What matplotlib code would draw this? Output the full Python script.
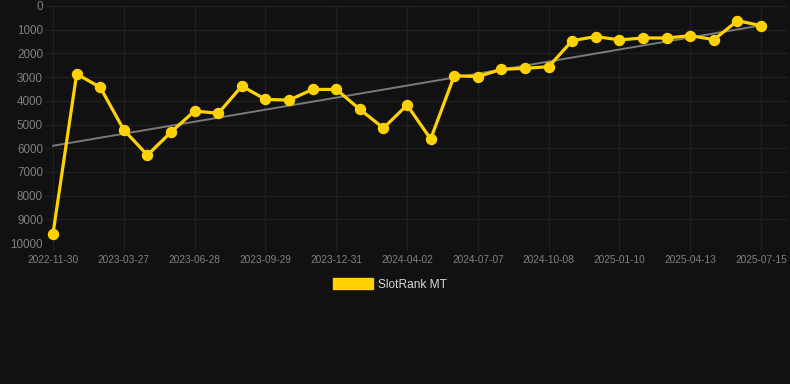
import numpy as np
import matplotlib
matplotlib.use("Agg")
import matplotlib.pyplot as plt
from matplotlib.patches import Patch

dates = ["2022-11-30", "2023-01-08", "2023-02-16", "2023-03-27", "2023-04-27",
         "2023-05-28", "2023-06-28", "2023-07-29", "2023-08-29", "2023-09-29",
         "2023-10-30", "2023-11-30", "2023-12-31", "2024-02-01", "2024-03-02",
         "2024-04-02", "2024-05-05", "2024-06-05", "2024-07-07", "2024-08-07",
         "2024-09-07", "2024-10-08", "2024-11-08", "2024-12-10", "2025-01-10",
         "2025-02-10", "2025-03-13", "2025-04-13", "2025-05-14", "2025-06-14",
         "2025-07-15"]
ranks = [9600, 2870, 3430, 5230, 6290, 5320, 4430, 4530, 3380, 3940,
         3970, 3520, 3520, 4360, 5150, 4180, 5610, 2940, 2980, 2670,
         2630, 2560, 1460, 1290, 1430, 1350, 1350, 1250, 1420, 620,
         830]
series_name = "SlotRank MT"

bg = "#111111"
gold = "#FFD200"
grid_c = "#1f1f1f"
tick_c = "#7f7f7f"

W, H = 790, 384
fig = plt.figure(figsize=(W / 100, H / 100), dpi=100, facecolor=bg)
left, right, top, bottom = 45, 788, 6, 243
ax = fig.add_axes([left / W, 1 - bottom / H, (right - left) / W, (bottom - top) / H])
ax.set_facecolor(bg)

x = np.arange(len(ranks))
coef = np.polyfit(x, ranks, 1)
ax.plot(x, np.polyval(coef, x), color="#7a7a7a", lw=1.4, zorder=2)
ax.plot(x, ranks, color=gold, lw=2.3, marker="o", ms=7.2, mfc=gold, mec=gold, zorder=3)

ax.set_ylim(10000, 0)
ax.set_yticks(np.arange(0, 10001, 1000))
ax.set_xlim(-0.34, 31.14)
tick_idx = x[::3]
ax.set_xticks(tick_idx)
ax.set_xticklabels([dates[i] for i in tick_idx])

for s in ax.spines.values():
    s.set_visible(False)
ax.grid(True, color=grid_c, lw=1)
ax.set_axisbelow(True)
ax.tick_params(axis="y", length=0, pad=1.5, labelsize=8.4, labelcolor=tick_c, labelfontfamily="Liberation Sans")
ax.tick_params(axis="x", length=6, width=1, color=grid_c, pad=2.5, labelsize=7.3, labelcolor=tick_c, labelfontfamily="Liberation Sans")

leg = fig.legend(handles=[Patch(facecolor=gold, edgecolor=gold)], labels=[series_name],
                 loc="center", bbox_to_anchor=(390 / W, 1 - 284.5 / H), frameon=False,
                 handlelength=3.3, handleheight=0.95, handletextpad=0.45,
                 prop={"family": "Liberation Sans", "size": 8.6})
for t in leg.get_texts():
    t.set_color("#d8d8d8")

fig.savefig("out.png", dpi=100, facecolor=bg)
